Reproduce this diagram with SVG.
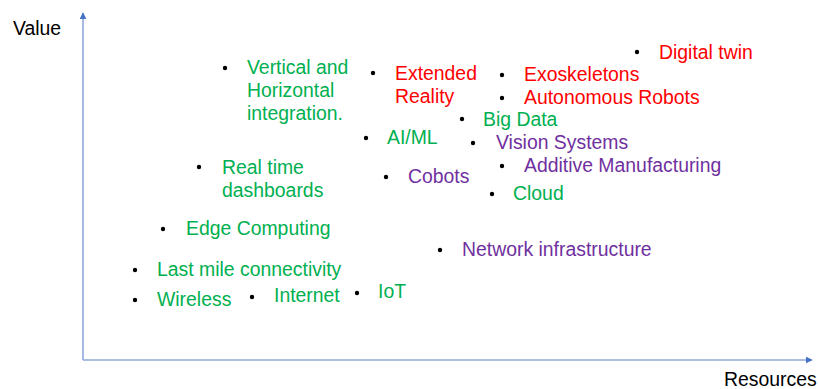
<svg xmlns="http://www.w3.org/2000/svg" width="818" height="389" viewBox="0 0 818 389">
<defs>
<style>
text{font-family:"Liberation Sans",Arial,sans-serif;font-size:19.4px}
.g{fill:#00B050}.r{fill:#FF0000}.p{fill:#7030A0}.k{fill:#000}
.b{fill:#000}
.axis{stroke:#8EA9DB;stroke-width:1.6;fill:none}
</style>
<marker id="ah" viewBox="0 0 10 10" refX="9" refY="5" markerWidth="7" markerHeight="7" markerUnits="userSpaceOnUse" orient="auto">
<path d="M0,0 L10,5 L0,10 Z" fill="#4472C4"/>
</marker>
</defs>
<rect width="818" height="389" fill="#fff"/>
<g id="connectors">
<path class="axis" d="M83,360 L83,13" marker-end="url(#ah)"/>
<path class="axis" d="M83,360 L812,360" marker-end="url(#ah)"/>
</g>
<g id="axis-labels">
<text class="k" x="13" y="35">Value</text>
<text class="k" x="724" y="386">Resources</text>
</g>
<g id="vertical-horizontal"><circle class="b" cx="225" cy="68" r="2.2"/><text class="g" x="247" y="74">Vertical and</text><text class="g" x="247" y="97">Horizontal</text><text class="g" x="247" y="120">integration.</text></g>
<g id="extended-reality"><circle class="b" cx="373" cy="73" r="2.2"/><text class="r" x="395" y="80">Extended</text><text class="r" x="395" y="103">Reality</text></g>
<g id="exoskeletons"><circle class="b" cx="502" cy="75" r="2.2"/><text class="r" x="524" y="81">Exoskeletons</text></g>
<g id="autonomous-robots"><circle class="b" cx="502" cy="98" r="2.2"/><text class="r" x="524" y="104">Autonomous Robots</text></g>
<g id="digital-twin"><circle class="b" cx="637" cy="52" r="2.2"/><text class="r" x="659" y="59">Digital twin</text></g>
<g id="big-data"><circle class="b" cx="462" cy="119" r="2.2"/><text class="g" x="483" y="126">Big Data</text></g>
<g id="ai-ml"><circle class="b" cx="366" cy="138" r="2.2"/><text class="g" x="387" y="144">AI/ML</text></g>
<g id="vision-systems"><circle class="b" cx="473" cy="143" r="2.2"/><text class="p" x="496" y="149">Vision Systems</text></g>
<g id="additive-manufacturing"><circle class="b" cx="502" cy="166" r="2.2"/><text class="p" x="524" y="172">Additive Manufacturing</text></g>
<g id="cobots"><circle class="b" cx="386" cy="177" r="2.2"/><text class="p" x="408" y="183">Cobots</text></g>
<g id="cloud"><circle class="b" cx="492" cy="194" r="2.2"/><text class="g" x="513" y="200">Cloud</text></g>
<g id="real-time-dashboards"><circle class="b" cx="199" cy="167" r="2.2"/><text class="g" x="222" y="174">Real time</text><text class="g" x="222" y="197">dashboards</text></g>
<g id="edge-computing"><circle class="b" cx="163" cy="229" r="2.2"/><text class="g" x="186" y="235">Edge Computing</text></g>
<g id="network-infrastructure"><circle class="b" cx="440" cy="250" r="2.2"/><text class="p" x="462" y="256">Network infrastructure</text></g>
<g id="last-mile"><circle class="b" cx="135" cy="270" r="2.2"/><text class="g" x="157" y="276">Last mile connectivity</text></g>
<g id="wireless"><circle class="b" cx="135" cy="300" r="2.2"/><text class="g" x="157" y="306">Wireless</text></g>
<g id="internet"><circle class="b" cx="252" cy="297" r="2.2"/><text class="g" x="274" y="302">Internet</text></g>
<g id="iot"><circle class="b" cx="357" cy="293" r="2.2"/><text class="g" x="378" y="298">IoT</text></g>
</svg>
